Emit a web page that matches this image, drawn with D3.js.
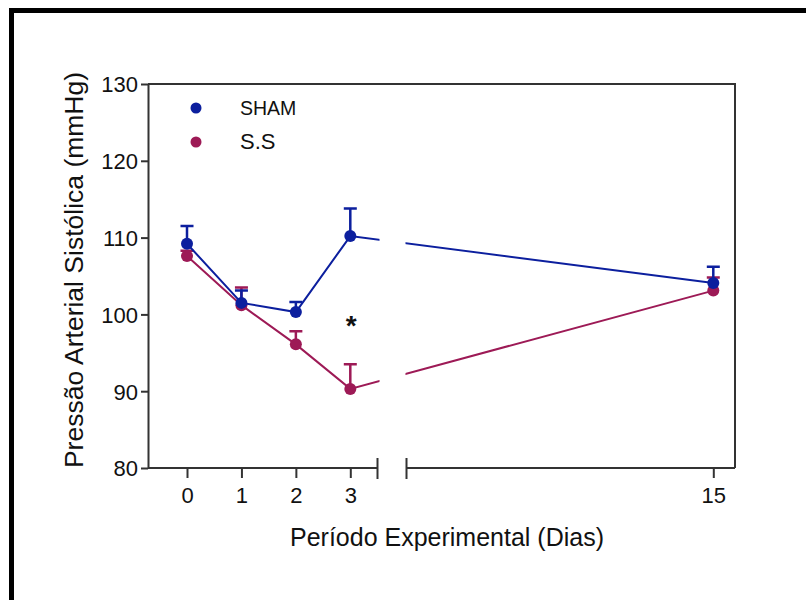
<!DOCTYPE html>
<meta charset="UTF-8">
<html>
<head>
<script src="https://d3js.org/d3.v7.min.js"></script>
<style>
  body { margin: 0; background: #fff; }
  svg text { font-family: "Liberation Sans", Arial, sans-serif; fill: #111; }
  .Axis path, .Axis line { stroke: #333; stroke-width: 2; }
</style>
</head>
<body>
<svg class="Chart" width="806" height="600"></svg>
<script>
// data
var Days = [0, 1, 2, 3, 15];
var ShamMean = [109.2, 101.5, 100.3, 110.2, 104.1];
var ShamTop  = [111.5, 103.1, 101.6, 113.8, 106.2];
var SSMean   = [107.6, 101.2, 96.1, 90.3, 103.1];
var SSTop    = [108.3, 103.5, 97.8, 93.5, 104.8];
var YTicks = [80, 90, 100, 110, 120, 130];
var XTicksLeft = [0, 1, 2, 3];
var XTicksRight = [15];
var SeriesNames = ["SHAM", "S.S"];
var Colors = ["#0c1f9e", "#9d1a56"];

var Svg = d3.select(".Chart");

// frame around the figure (open on right / bottom)
Svg.append("rect")
  .attr("x", 11.5).attr("y", 10.5)
  .attr("width", 900).attr("height", 700)
  .attr("fill", "none").attr("stroke", "#000").attr("stroke-width", 5);

var Left = 148, Right = 735, Top = 84, Bottom = 468;
var BreakA = 377.5, BreakB = 406.5;

var YScale = d3.scaleLinear().domain([80, 130]).range([Bottom, Top]);
var XLeft = d3.scaleLinear().domain([0, 3]).range([187, 350.3]);
var XRight = d3.scaleLinear().domain([15, 15.4]).range([713.3, Right]);

function XPos(d) { return d <= 3 ? XLeft(d) : XRight(d); }

// top and right frame lines of the plot
Svg.append("path")
  .attr("d", "M" + Left + "," + Top + "H" + Right + "V" + Bottom)
  .attr("fill", "none").attr("stroke", "#333").attr("stroke-width", 2);

// y axis
var YAxisG = Svg.append("g").attr("class", "Axis")
  .attr("transform", "translate(" + Left + ",0)")
  .call(d3.axisLeft(YScale).tickValues(YTicks).tickSize(7).tickSizeOuter(0).tickPadding(3));
YAxisG.selectAll("text").style("font-size", "22px").attr("dy", "0.36em");

// x axis, left segment
var XAxisL = Svg.append("g").attr("class", "Axis")
  .attr("transform", "translate(0," + Bottom + ")")
  .call(d3.axisBottom(XLeft).tickValues(XTicksLeft).tickFormat(d3.format("d"))
    .tickSize(10).tickSizeOuter(0).tickPadding(9));
XAxisL.select(".domain").attr("d", "M" + Left + ",0H" + BreakA);
XAxisL.selectAll("text").style("font-size", "22px");

// x axis, right segment
var XAxisR = Svg.append("g").attr("class", "Axis")
  .attr("transform", "translate(0," + Bottom + ")")
  .call(d3.axisBottom(XRight).tickValues(XTicksRight).tickFormat(d3.format("d"))
    .tickSize(10).tickSizeOuter(0).tickPadding(9));
XAxisR.select(".domain").attr("d", "M" + BreakB + ",0H" + Right);
XAxisR.selectAll("text").style("font-size", "22px");

// break marks
[BreakA, BreakB].forEach(function(X) {
  Svg.append("line")
    .attr("x1", X).attr("x2", X).attr("y1", Bottom - 10).attr("y2", Bottom + 11)
    .attr("stroke", "#333").attr("stroke-width", 2);
});

// clip the lines so they skip the axis break
var Clip = Svg.append("clipPath").attr("id", "BreakClip");
Clip.append("rect").attr("x", 0).attr("y", 0).attr("width", BreakA + 2).attr("height", 600);
Clip.append("rect").attr("x", BreakB - 1).attr("y", 0).attr("width", 400).attr("height", 600);

var AllSeries = [
  {Name: SeriesNames[0], Mean: ShamMean, Top: ShamTop, Color: Colors[0]},
  {Name: SeriesNames[1], Mean: SSMean, Top: SSTop, Color: Colors[1]}
];

var Line = d3.line()
  .x(function(d) { return XPos(d.Day); })
  .y(function(d) { return YScale(d.Value); });

// draw S.S first so SHAM sits on top
AllSeries.slice().reverse().forEach(function(S) {
  var Pts = Days.map(function(Day, i) { return {Day: Day, Value: S.Mean[i], Top: S.Top[i]}; });
  var G = Svg.append("g");

  G.append("path").datum(Pts)
    .attr("d", Line)
    .attr("clip-path", "url(#BreakClip)")
    .attr("fill", "none").attr("stroke", S.Color).attr("stroke-width", 2);

  G.selectAll(".Err").data(Pts).enter().append("path")
    .attr("d", function(d) {
      var X = XPos(d.Day), Y0 = YScale(d.Value), Y1 = YScale(d.Top);
      return "M" + X + "," + Y0 + "V" + Y1 + "M" + (X - 6.5) + "," + Y1 + "H" + (X + 6.5);
    })
    .attr("fill", "none").attr("stroke", S.Color).attr("stroke-width", 2.5);

  G.selectAll("circle").data(Pts).enter().append("circle")
    .attr("cx", function(d) { return XPos(d.Day); })
    .attr("cy", function(d) { return YScale(d.Value); })
    .attr("r", 6)
    .attr("fill", S.Color);
});

// significance mark
Svg.append("text")
  .attr("x", XLeft(3) + 1).attr("y", 335)
  .attr("text-anchor", "middle")
  .style("font-size", "28px").style("font-weight", "bold")
  .text("*");

// legend
var LegendSizes = ["19.5px", "22px"];
AllSeries.forEach(function(S, i) {
  var Y = 108 + i * 34;
  Svg.append("circle").attr("cx", 196).attr("cy", Y).attr("r", 5.5).attr("fill", S.Color);
  Svg.append("text").attr("x", 240).attr("y", Y + 7)
    .style("font-size", LegendSizes[i]).text(S.Name);
});

// axis titles
Svg.append("text")
  .attr("x", 447).attr("y", 546)
  .attr("text-anchor", "middle")
  .style("font-size", "25px")
  .text("Período Experimental (Dias)");

Svg.append("text")
  .attr("transform", "translate(83," + ((Top + Bottom) / 2 - 6) + ") rotate(-90)")
  .attr("text-anchor", "middle")
  .style("font-size", "26.5px")
  .text("Pressão Arterial Sistólica (mmHg)");
</script>
</body>
</html>
